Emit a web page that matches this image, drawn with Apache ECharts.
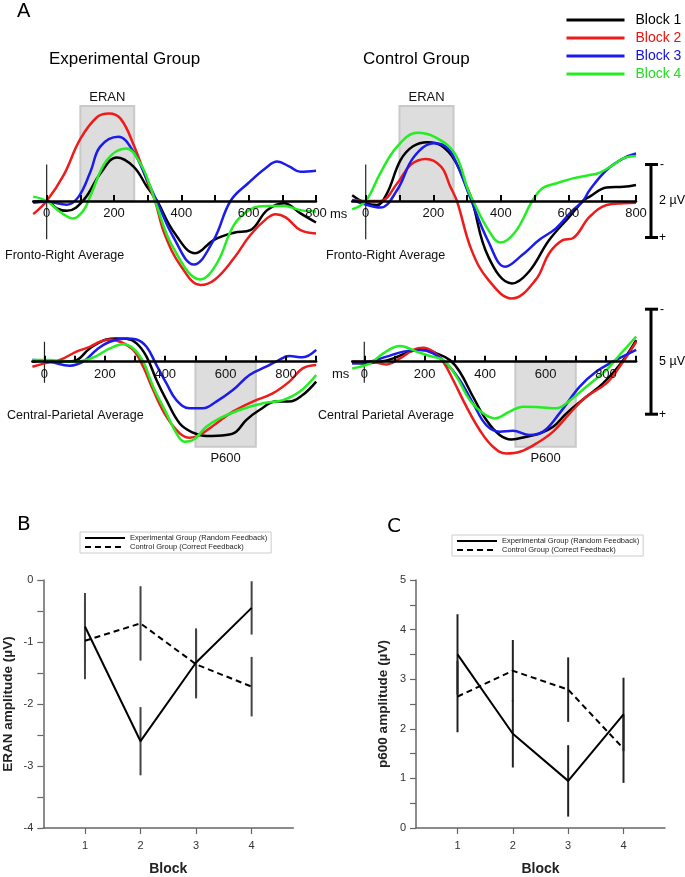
<!DOCTYPE html>
<html>
<head>
<meta charset="utf-8">
<title>ERAN / P600 by block</title>
<script src="https://cdn.jsdelivr.net/npm/echarts@6/dist/echarts.min.js"></script>
<style>
  html, body { margin: 0; padding: 0; background: #fff; }
  #chart { width: 685px; height: 877px; }
</style>
</head>
<body>
<div id="chart"></div>
<script>
// ---- panel A: grand averages, [ms, µV] (negative is drawn up) ----
var blockNames = ['Block 1', 'Block 2', 'Block 3', 'Block 4'];

// Fronto-right average, experimental group
var frExpB1 = [[-40,0.02],[0,0],[30,0.2],[60,0.27],[110,-0.03],[160,-0.76],[208,-1.19],[258,-0.94],[298,-0.39],[328,0],[377,0.84],[442,1.43],[496,1.07],[556,0.87],[605,0.8],[655,0.25],[705,0.06],[754,0.34],[800,0.59]];
var frExpB2 = [[-40,0.36],[0,0],[50,-0.7],[100,-1.7],[150,-2.3],[185,-2.4],[220,-2.25],[260,-1.5],[300,-0.5],[322,0],[350,0.9],[400,1.8],[457,2.3],[500,2.15],[556,1.57],[605,0.93],[655,0.47],[680,0.36],[710,0.45],[754,0.8],[800,0.89]];
var frExpB3 = [[-40,0.05],[0,0.02],[60,0.1],[95,-0.12],[130,-0.8],[159,-1.49],[213,-1.76],[258,-1.35],[298,-0.58],[327,0],[377,1.0],[437,1.74],[496,1.07],[546,0],[600,-0.5],[650,-0.9],[685,-1.08],[720,-0.95],[754,-0.8],[800,-0.83]];
var frExpB4 = [[-40,-0.12],[0,0],[40,0.3],[79,0.48],[110,0.25],[129,-0.12],[179,-1.12],[236,-1.44],[278,-1.03],[308,-0.39],[322,0],[377,1.3],[457,2.15],[506,1.7],[556,0.66],[605,0.23],[655,0.14],[705,0.14],[754,0.25],[800,0.29]];

// Fronto-right average, control group
var frCtrlB1 = [[-40,-0.16],[0,0.06],[33,0.11],[63,-0.21],[103,-1.12],[140,-1.5],[183,-1.61],[223,-1.52],[263,-1.12],[303,-0.3],[315,0],[363,1.53],[433,2.26],[483,1.94],[543,1.07],[603,0.43],[643,0],[663,-0.12],[713,-0.37],[763,-0.39],[800,-0.44]];
var frCtrlB2 = [[-40,-0.03],[0,0],[43,0],[93,-0.48],[133,-0.99],[178,-1.15],[223,-0.94],[250,-0.4],[270,0],[313,1.34],[363,2.16],[433,2.67],[503,2.16],[543,1.43],[583,1.07],[613,1.02],[663,0.43],[713,0.11],[763,0.06],[800,0.05]];
var frCtrlB3 = [[-40,-0.03],[0,0.1],[43,0.18],[93,-0.3],[143,-1.21],[203,-1.58],[243,-1.44],[273,-0.94],[308,-0.12],[363,1.11],[413,1.8],[463,1.48],[513,1.07],[563,0.75],[613,0.25],[643,0],[663,-0.3],[713,-0.85],[763,-1.17],[800,-1.3]];
var frCtrlB4 = [[-40,0.23],[0,0],[43,-0.76],[93,-1.49],[153,-1.87],[203,-1.76],[263,-1.31],[303,-0.3],[318,0],[363,0.79],[398,1.14],[443,0.84],[493,0],[523,-0.35],[563,-0.48],[613,-0.62],[663,-0.71],[693,-0.78],[733,-0.99],[763,-1.17],[800,-1.23]];

// Central-parietal average, experimental group
var cpExpB1 = [[-40,0],[0,-0.05],[51,0],[101,-0.05],[150,-0.63],[205,-1.06],[239,-1.11],[272,-1.09],[305,-0.87],[338,-0.24],[371,0.87],[404,1.83],[448,2.94],[492,3.38],[536,3.54],[602,3.49],[635,3.33],[668,2.78],[712,2.3],[767,1.9],[811,1.9],[855,1.59],[900,0.95]];
var cpExpB2 = [[-40,0.24],[0,0.08],[51,-0.08],[106,-0.48],[150,-0.71],[184,-0.95],[216,-1.06],[250,-0.95],[294,-0.56],[327,0.24],[360,1.35],[404,2.62],[448,3.41],[481,3.62],[514,3.49],[569,2.94],[624,2.38],[690,1.9],[756,1.51],[811,0.95],[855,0.32],[900,0.16]];
var cpExpB3 = [[-40,-0.08],[18,0],[84,0.19],[128,0],[172,-0.56],[216,-0.95],[272,-1.11],[305,-1.06],[338,-0.71],[371,0.16],[404,1.03],[437,1.83],[481,2.22],[525,2.22],[569,1.9],[624,1.35],[679,0.63],[734,0.24],[767,0],[811,-0.27],[855,-0.21],[900,-0.56]];
var cpExpB4 = [[-40,-0.08],[18,-0.08],[73,0],[128,-0.05],[172,-0.27],[216,-0.63],[261,-0.83],[294,-0.63],[327,0],[360,1.19],[404,2.46],[437,3.41],[464,3.81],[492,3.73],[536,3.1],[580,2.7],[646,2.3],[724,1.98],[790,1.83],[845,1.43],[900,0.63]];

// Central-parietal average, control group
var cpCtrlB1 = [[-40,0.05],[0,0.08],[52,0],[96,-0.16],[151,-0.48],[195,-0.59],[239,-0.4],[283,-0.08],[316,0.48],[360,1.67],[404,2.78],[448,3.49],[487,3.7],[537,3.57],[581,3.41],[625,3.1],[669,2.46],[735,1.67],[790,1.03],[845,0.16],[900,-1.03]];
var cpCtrlB2 = [[-40,0],[19,0],[74,0.13],[118,-0.16],[162,-0.56],[195,-0.67],[228,-0.48],[261,0],[294,0.87],[338,2.14],[382,3.25],[426,4.05],[470,4.37],[515,4.29],[570,3.89],[625,3.33],[680,2.46],[735,1.67],[801,1.03],[845,0.24],[900,-0.95]];
var cpCtrlB3 = [[-40,0.08],[19,0],[74,-0.24],[129,-0.48],[184,-0.56],[228,-0.4],[272,0.08],[316,0.87],[360,1.98],[404,3.02],[448,3.33],[492,3.29],[547,3.49],[592,3.33],[646,2.46],[713,1.19],[767,0.48],[823,0],[900,-0.56]];
var cpCtrlB4 = [[-40,0.32],[19,0.08],[63,-0.4],[118,-0.75],[173,-0.48],[217,-0.27],[261,-0.08],[305,0.71],[349,1.83],[393,2.46],[432,2.7],[481,2.38],[525,2.14],[581,2.17],[636,2.22],[669,1.98],[735,1.19],[801,0.4],[845,-0.32],[900,-1.2]];

var ticksTop = [0, 100, 200, 300, 400, 500, 600, 700, 800];
var labelsTop = [0, 200, 400, 600, 800];
var ticksBottom = [0, 100, 200, 300, 400, 500, 600, 700, 800, 900];
var labelsBottom = [0, 200, 400, 600, 800];
var eranWindow = [100, 260];   // ms
var eranBoxTop = -2.6;         // µV
var p600Window = [500, 700];
var p600BoxBottom = 4.05;
var zeroMarkTop = [-1, 1.05];
var zeroMarkBottom = [-0.95, 1];

// ---- panels B and C: mean amplitude per block with error bars ----
var blockNum = [1, 2, 3, 4];
var eranExp = [-0.75, -2.6, -1.33, -0.45];
var eranExpErr = [0.54, 0.55, 0.55, 0.43];
var eranCtrl = [-0.98, -0.7, -1.36, -1.72];
var eranCtrlErr = [0.62, 0.6, 0.55, 0.48];
var p600Exp = [3.5, 1.9, 0.95, 2.29];
var p600ExpErr = [0.81, 0.68, 0.72, 0.74];
var p600Ctrl = [2.65, 3.17, 2.79, 1.6];
var p600CtrlErr = [0.72, 0.62, 0.65, 0.69];

var grpExp = 'Experimental Group (Random Feedback)';
var grpCtrl = 'Control Group (Correct Feedback)';

var lineColors = ['#000000', '#ee1b1b', '#1b1bee', '#22ee22'];
var textColors = ['#000000', '#ee1111', '#1111dd', '#22dd22'];
var FONT = 'Liberation Sans, Arial, sans-serif';

var chart = echarts.init(document.getElementById('chart'));

// ERP panels: data grid (0-3) and a thin grid (6-9) whose bottom edge is the 0 µV line,
// so the time axis with its labels sits on the baseline
var erpBox = [
  { left: 33.2, width: 282.8, zero: 201, half: 109.5, min: -40, max: 800, lo: -3, hi: 3 },
  { left: 352.2, width: 283.8, zero: 201, half: 109.5, min: -40, max: 800, lo: -3, hi: 3 },
  { left: 32.4, width: 283.8, zero: 361.7, half: 94.5, min: -40, max: 900, lo: -4.5, hi: 4.5 },
  { left: 352.2, width: 284, zero: 361.7, half: 94.5, min: -40, max: 900, lo: -4.5, hi: 4.5 }
];
var erpTicks = [ticksTop, ticksTop, ticksBottom, ticksBottom];
var erpLabels = [labelsTop, labelsTop, labelsBottom, labelsBottom];

function erpAxisX(gi, b, ticks, labels) {
  return {
    gridIndex: gi, type: 'value', min: b.min, max: b.max, z: 5,
    axisLine: { onZero: false, lineStyle: { color: '#000', width: 2.5 } },
    axisTick: { show: true, inside: true, length: 6, customValues: ticks, lineStyle: { color: '#000', width: 2 } },
    axisLabel: { customValues: labels, margin: 6, fontSize: 13, color: '#111', fontFamily: FONT },
    splitLine: { show: false }
  };
}
function erpLine(gi, name, data, color) {
  return {
    type: 'line', name: name, xAxisIndex: gi, yAxisIndex: gi, data: data,
    smooth: 0.4, symbol: 'none', silent: true,
    lineStyle: { color: color, width: 2.5 }, itemStyle: { color: color, opacity: 0 }
  };
}
function zeroLine(gi, ends, box, boxLabel, labelPos) {
  return {
    type: 'line', xAxisIndex: gi, yAxisIndex: gi, symbol: 'none', silent: true,
    data: [[0, ends[0]], [0, ends[1]]],
    lineStyle: { color: '#222', width: 1.2 },
    markArea: {
      silent: true,
      itemStyle: { color: '#dddddd', borderColor: '#c9c9c9', borderWidth: 2 },
      label: { show: true, position: labelPos, distance: labelPos === 'top' ? 1 : 4, formatter: boxLabel,
               color: '#111', fontSize: 13, fontFamily: FONT },
      data: [box]
    }
  };
}
function meanLine(gi, name, data, dashed) {
  return {
    type: 'line', name: name, xAxisIndex: gi, yAxisIndex: gi, symbol: 'none', silent: true,
    data: blockNum.map(function (b, i) { return [b, data[i]]; }),
    lineStyle: { color: '#000', width: 2, type: dashed ? [6, 4] : 'solid' },
    itemStyle: { color: '#000', opacity: 0 }
  };
}
function errBars(gi, mean, err, color) {
  return {
    type: 'custom', xAxisIndex: gi, yAxisIndex: gi, silent: true,
    data: blockNum.map(function (b, i) { return [b, mean[i] - err[i], mean[i] + err[i]]; }),
    encode: { x: 0, y: [1, 2] },
    renderItem: function (params, api) {
      var p1 = api.coord([api.value(0), api.value(1)]);
      var p2 = api.coord([api.value(0), api.value(2)]);
      return { type: 'line', shape: { x1: p1[0], y1: p1[1], x2: p2[0], y2: p2[1] },
               style: { stroke: color, lineWidth: 2 } };
    }
  };
}
function statX(gi) {
  return {
    gridIndex: gi, type: 'value', min: 0.25, max: 4.75,
    axisLine: { onZero: false, lineStyle: { color: '#666', width: 1.5 } },
    axisTick: { show: true, length: 6, customValues: blockNum, lineStyle: { color: '#666', width: 1.2 } },
    axisLabel: { customValues: blockNum, margin: 12, fontSize: 11, color: '#333', fontFamily: FONT },
    splitLine: { show: false },
    name: 'Block', nameLocation: 'middle', nameGap: 34,
    nameTextStyle: { fontWeight: 'bold', fontSize: 14, color: '#222', fontFamily: FONT }
  };
}
function statY(gi, min, max, title, gap) {
  return {
    gridIndex: gi, type: 'value', min: min, max: max, interval: 1,
    axisLine: { show: true, onZero: false, lineStyle: { color: '#666', width: 1.5 } },
    axisTick: { show: true, length: 6, lineStyle: { color: '#666', width: 1.2 } },
    minorTick: { show: true, splitNumber: 2, length: 6, lineStyle: { color: '#666', width: 1.2 } },
    axisLabel: { margin: 10, fontSize: 11, color: '#333', fontFamily: FONT },
    splitLine: { show: false }, minorSplitLine: { show: false },
    name: title, nameLocation: 'middle', nameRotate: 90, nameGap: gap,
    nameTextStyle: { fontWeight: 'bold', fontSize: 13.5, color: '#222', fontFamily: FONT }
  };
}
function groupLegend(left, top) {
  return {
    data: [grpExp, grpCtrl], left: left, top: top, orient: 'vertical',
    itemWidth: 40, itemHeight: 8, itemGap: 1, padding: [2, 4, 2, 4],
    borderColor: '#cccccc', borderWidth: 1, selectedMode: false,
    itemStyle: { opacity: 0 },
    textStyle: { fontSize: 7.5, color: '#222', fontFamily: FONT }
  };
}

var grids = [], xAxes = [], yAxes = [];
erpBox.forEach(function (b) {
  grids.push({ left: b.left, width: b.width, top: b.zero - b.half, height: 2 * b.half });
  xAxes.push({ gridIndex: xAxes.length, type: 'value', min: b.min, max: b.max, show: false, splitLine: { show: false } });
  yAxes.push({ gridIndex: yAxes.length, type: 'value', inverse: true, min: b.lo, max: b.hi, show: false, splitLine: { show: false } });
});
grids.push({ left: 43.3, top: 580, width: 250, height: 250 });
grids.push({ left: 416, top: 580, width: 249, height: 250 });
xAxes.push(statX(4), statX(5));
yAxes.push(statY(4, -4, 0, 'ERAN amplitude (µV)', 28), statY(5, 0, 5, 'p600 amplitude (µV)', 26));
erpBox.forEach(function (b, k) {
  var gi = grids.length;
  grids.push({ left: b.left, width: b.width, top: b.zero - 10, height: 10 });
  xAxes.push(erpAxisX(gi, b, erpTicks[k], erpLabels[k]));
  yAxes.push({ gridIndex: gi, type: 'value', min: 0, max: 1, show: false, splitLine: { show: false } });
});

var series = [];
series.push(zeroLine(0, zeroMarkTop, [{ xAxis: eranWindow[0], yAxis: 0 }, { xAxis: eranWindow[1], yAxis: eranBoxTop }], 'ERAN', 'top'));
series.push(zeroLine(1, zeroMarkTop, [{ xAxis: eranWindow[0], yAxis: 0 }, { xAxis: eranWindow[1], yAxis: eranBoxTop }], 'ERAN', 'top'));
series.push(zeroLine(2, zeroMarkBottom, [{ xAxis: p600Window[0], yAxis: 0 }, { xAxis: p600Window[1], yAxis: p600BoxBottom }], 'P600', 'bottom'));
series.push(zeroLine(3, zeroMarkBottom, [{ xAxis: p600Window[0], yAxis: 0 }, { xAxis: p600Window[1], yAxis: p600BoxBottom }], 'P600', 'bottom'));

var panels = [
  [frExpB1, frExpB2, frExpB3, frExpB4],
  [frCtrlB1, frCtrlB2, frCtrlB3, frCtrlB4],
  [cpExpB1, cpExpB2, cpExpB3, cpExpB4],
  [cpCtrlB1, cpCtrlB2, cpCtrlB3, cpCtrlB4]
];
panels.forEach(function (curves, gi) {
  curves.forEach(function (d, k) { series.push(erpLine(gi, blockNames[k], d, lineColors[k])); });
});

series.push(errBars(4, eranExp, eranExpErr, '#444'));
series.push(errBars(4, eranCtrl, eranCtrlErr, '#444'));
series.push(meanLine(4, grpExp, eranExp, false));
series.push(meanLine(4, grpCtrl, eranCtrl, true));
series.push(errBars(5, p600Exp, p600ExpErr, '#222'));
series.push(errBars(5, p600Ctrl, p600CtrlErr, '#222'));
series.push(meanLine(5, grpExp, p600Exp, false));
series.push(meanLine(5, grpCtrl, p600Ctrl, true));

chart.setOption({
  backgroundColor: '#ffffff',
  animation: false,
  textStyle: { fontFamily: FONT },
  grid: grids,
  xAxis: xAxes,
  yAxis: yAxes,
  legend: [
    {
      data: blockNames.map(function (n, i) { return { name: n, textStyle: { color: textColors[i] } }; }),
      left: 565, top: 13, orient: 'vertical', itemWidth: 58, itemHeight: 12, itemGap: 4, padding: 0,
      selectedMode: false, itemStyle: { opacity: 0 },
      lineStyle: { width: 3 },
      textStyle: { fontSize: 14, fontFamily: FONT, padding: [0, 0, 0, 6] }
    },
    groupLegend(80, 532),
    groupLegend(452, 535)
  ],
  series: series
});

// scale bars placed with the ERP value scales
function bar(gi, lo, hi, label) {
  var top = chart.convertToPixel({ gridIndex: gi }, [0, lo])[1];
  var bot = chart.convertToPixel({ gridIndex: gi }, [0, hi])[1];
  var x = 651, mid = (top + bot) / 2;
  var s = { stroke: '#000', lineWidth: 3 };
  return [
    { type: 'line', shape: { x1: x, y1: top, x2: x, y2: bot }, style: s },
    { type: 'line', shape: { x1: x - 6, y1: top, x2: x + 7, y2: top }, style: s },
    { type: 'line', shape: { x1: x - 6, y1: bot, x2: x + 7, y2: bot }, style: s },
    txt(660, top, '-', 12, '#000'),
    txt(659, bot, '+', 12, '#000'),
    txt(659, mid, label, 12.5, '#000')
  ];
}
function txt(x, y, s, size, color, family) {
  return { type: 'text', x: x, y: y, silent: true,
           style: { text: s, fontSize: size, fontFamily: family || FONT, fill: color || '#000',
                    textVerticalAlign: 'middle', verticalAlign: 'middle' } };
}

var elements = [
  txt(17, 11, 'A', 20, '#000'),
  txt(49, 59, 'Experimental Group', 17),
  txt(363, 59, 'Control Group', 17),
  txt(5, 256, 'Fronto-Right Average', 12.5, '#111'),
  txt(326, 256, 'Fronto-Right Average', 12.5, '#111'),
  txt(7, 416, 'Central-Parietal Average', 12.5, '#111'),
  txt(318, 416, 'Central Parietal Average', 12.5, '#111'),
  txt(330, 214, 'ms', 13, '#111'),
  txt(332, 374, 'ms', 13, '#111'),
  txt(17, 525, 'B', 20, '#000', 'DejaVu Sans'),
  txt(387, 527, 'C', 20, '#000', 'DejaVu Sans')
].concat(bar(1, -1, 1, '2 µV')).concat(bar(3, -2.5, 2.5, '5 µV'));

chart.setOption({ graphic: { elements: elements } });
</script>
</body>
</html>
